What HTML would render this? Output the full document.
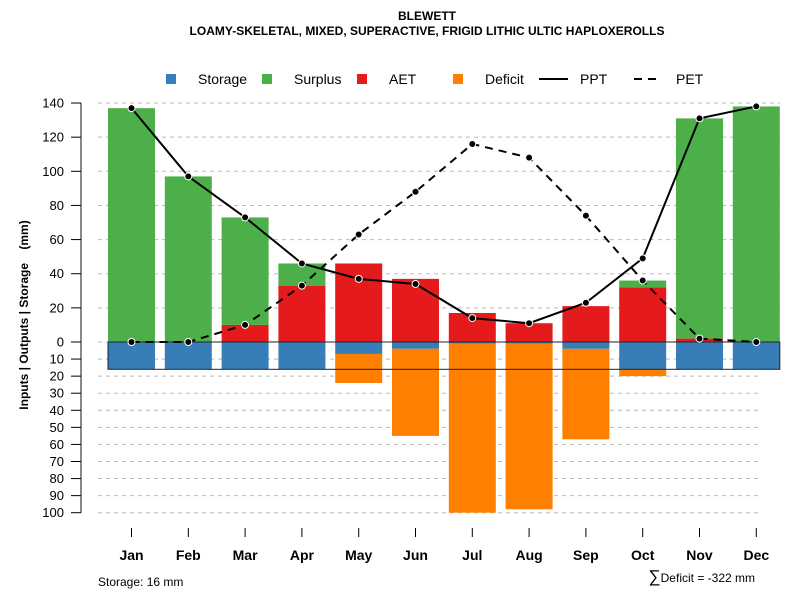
<!DOCTYPE html>
<html><head><meta charset="utf-8"><style>body{margin:0;background:#fff}svg{display:block;font-family:"Liberation Sans",sans-serif}</style></head>
<body>
<svg id="chart" width="800" height="600" viewBox="0 0 800 600">
<text x="427" y="20" text-anchor="middle" font-size="12" font-weight="bold">BLEWETT</text>
<text x="427" y="35" text-anchor="middle" font-size="12" font-weight="bold">LOAMY-SKELETAL, MIXED, SUPERACTIVE, FRIGID LITHIC ULTIC HAPLOXEROLLS</text>
<g font-size="14">
<rect x="166" y="74" width="10" height="10" fill="#377eb8"/><text x="198" y="84">Storage</text>
<rect x="262" y="74" width="10" height="10" fill="#4daf4a"/><text x="294" y="84">Surplus</text>
<rect x="357" y="74" width="10" height="10" fill="#e41a1c"/><text x="389" y="84">AET</text>
<rect x="453" y="74" width="10" height="10" fill="#ff7f00"/><text x="485" y="84">Deficit</text>
<line x1="539" y1="79" x2="568" y2="79" stroke="#000" stroke-width="2"/><text x="580" y="84">PPT</text>
<line x1="634" y1="79" x2="660" y2="79" stroke="#000" stroke-width="2" stroke-dasharray="8,6"/><text x="676" y="84">PET</text>
</g>
<text transform="translate(28,315) rotate(-90)" text-anchor="middle" font-size="12" font-weight="bold" style="white-space:pre">Inputs | Outputs | Storage    (mm)</text>
<g id="grid"></g><g id="bars"></g><g id="axes"></g><g id="lines"></g>
<text x="98" y="586" font-size="12">Storage: 16 mm</text>
<text x="755" y="582" text-anchor="end" font-size="12"><tspan font-size="17">∑</tspan>Deficit = -322 mm</text>
</svg>
<script>
const months=["Jan","Feb","Mar","Apr","May","Jun","Jul","Aug","Sep","Oct","Nov","Dec"];
const ppt=[137,97,73,46,37,34,14,11,23,49,131,138];
const pet=[0,0,10,33,63,88,116,108,74,36,2,0];
const aet=[0,0,10,33,46,37,17,11,21,32,2,0];
const surplus=[137,97,63,13,0,0,0,0,0,4,129,138];
const storage=[16,16,16,16,7,4,1,1,4,16,16,16];
const deficit=[0,0,0,0,17,51,99,97,53,4,0,0];
const upTicks=[0,20,40,60,80,100,120,140];
const downTicks=[10,20,30,40,50,60,70,80,90,100];
const storageCap=16;
const NS="http://www.w3.org/2000/svg";
const y0=342, k=1.707;
const yUp=v=>y0-v*k, yDn=v=>y0+v*k;
const xc=i=>131.5+i*56.8, bw=47;
function mk(p,t,a){const e=document.createElementNS(NS,t);for(const q in a)e.setAttribute(q,a[q]);document.getElementById(p).appendChild(e);return e;}
upTicks.forEach(v=>{const l=mk("grid","line",{x1:98,x2:780,y1:yUp(v),y2:yUp(v),stroke:"#bbb","stroke-dasharray":"4,4"});

});
downTicks.forEach(v=>{const l=mk("grid","line",{x1:98,x2:758,y1:yDn(v),y2:yDn(v),stroke:"#bbb","stroke-dasharray":"4,4"});

});
months.forEach((m,i)=>{const x=xc(i)-bw/2;
 let r=mk("bars","rect",{x,width:bw,y:yUp(aet[i]),height:aet[i]*k,fill:"#e41a1c"});
 
 
 r=mk("bars","rect",{x,width:bw,y:yUp(aet[i]+surplus[i]),height:surplus[i]*k,fill:"#4daf4a"});
 
 
 r=mk("bars","rect",{x,width:bw,y:y0,height:storage[i]*k,fill:"#377eb8"});
 
 
 r=mk("bars","rect",{x,width:bw,y:yDn(storage[i]),height:deficit[i]*k,fill:"#ff7f00"});
 
 
});
let box=mk("bars","rect",{x:xc(0)-bw/2,y:y0,width:xc(11)-xc(0)+bw,height:storageCap*k,fill:"none",stroke:"#222","stroke-width":1});


let ax=mk("axes","line",{x1:81,x2:81,y1:yUp(140),y2:yDn(100),stroke:"#888","stroke-width":2});


function ytick(y,v){const t=mk("axes","line",{x1:71,x2:81,y1:y,y2:y,stroke:"#000"});
 
 
 const s=mk("axes","text",{x:64,y:y+4.5,"text-anchor":"end","font-size":13});s.textContent=v;
 
 }
upTicks.forEach(v=>ytick(yUp(v),v));downTicks.forEach(v=>ytick(yDn(v),v));
months.forEach((m,i)=>{const t=mk("axes","line",{x1:xc(i),x2:xc(i),y1:528,y2:537,stroke:"#000"});
 
 
 const s=mk("axes","text",{x:xc(i),y:560,"text-anchor":"middle","font-size":14,"font-weight":"bold"});s.textContent=m;
 
 });
function series(arr,name,dash){const pts=arr.map((v,i)=>xc(i)+","+yUp(v)).join(" ");
 const p=mk("lines","polyline",{points:pts,fill:"none",stroke:"#000","stroke-width":2,"stroke-dasharray":dash});
 
 
 arr.forEach((v,i)=>{const c=mk("lines","circle",{cx:xc(i),cy:yUp(v),r:3.5,fill:"#000",stroke:"#fff","stroke-width":1});
 
 });}
series(pet,"pet","8,6");series(ppt,"ppt","none");
</script>
</body></html>
